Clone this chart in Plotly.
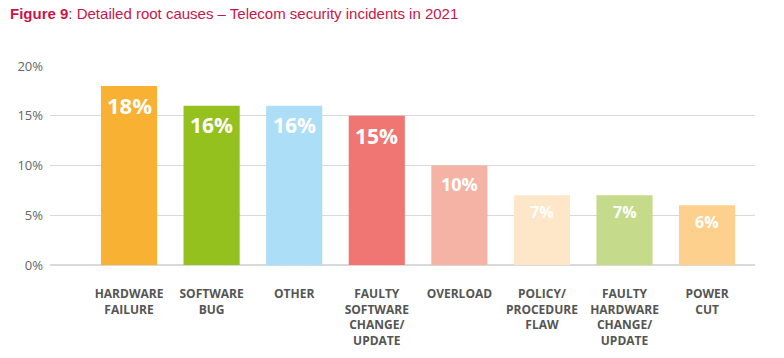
import plotly.graph_objects as go

categories = ["HARDWARE<br>FAILURE", "SOFTWARE<br>BUG", "OTHER", "FAULTY<br>SOFTWARE<br>CHANGE/<br>UPDATE",
              "OVERLOAD", "POLICY/<br>PROCEDURE<br>FLAW", "FAULTY<br>HARDWARE<br>CHANGE/<br>UPDATE", "POWER<br>CUT"]
values = [18, 16, 16, 15, 10, 7, 7, 6]
colors = ["#F8B133", "#95C11F", "#ADDEF8", "#EF7672", "#F5B3A6", "#FEE6C8", "#C5DA8A", "#FDD08D"]
label_sizes = [22, 21, 21, 21, 18, 16, 16, 16]
label_offsets = [19, 19, 19, 20, 18, 17, 17, 17]
tick_vals = [0, 5, 10, 15, 20]
tick_text = ["0%", "5%", "10%", "15%", "20%"]

x = list(range(len(categories)))
fig = go.Figure(go.Bar(x=x, y=values, marker=dict(color=colors, line=dict(width=0)),
                       width=0.68, hoverinfo="skip"))

for xi, v, s, off in zip(x, values, label_sizes, label_offsets):
    fig.add_annotation(x=xi, y=v, text=f"<b>{v}%</b>", showarrow=False, yanchor="middle",
                       yshift=-off, font=dict(family="Open Sans", size=s, color="white"))

fig.add_annotation(xref="paper", yref="paper", x=-0.0596, y=1.266, xanchor="left", yanchor="middle",
                   text="<b>Figure 9</b>: Detailed root causes – Telecom security incidents in 2021",
                   showarrow=False, font=dict(family="Liberation Sans, Arial", size=15, color="#C8154B"))

fig.update_layout(
    width=784, height=358, margin=dict(l=50, r=29, t=66, b=93),
    plot_bgcolor="white", paper_bgcolor="white", showlegend=False,
    xaxis=dict(range=[-0.957, 7.58], tickmode="array", tickvals=x,
               ticktext=[f"<b>{c}</b>" for c in categories], automargin=False,
               tickfont=dict(family="Open Sans", size=12, color="#555555"), showgrid=False,
               ticks="", showline=False, zeroline=False, tickangle=0, ticklabelstandoff=20),
    yaxis=dict(range=[0, 20], tickmode="array", tickvals=tick_vals, ticktext=tick_text,
               automargin=False,
               tickfont=dict(family="Open Sans", size=13, color="#666666"),
               gridcolor="#D9D9D9", gridwidth=1, zeroline=True, zerolinecolor="#D9D9D9",
               showline=False, ticks="", ticklabelstandoff=6),
)
fig.write_html("out.html", config={"displayModeBar": False},
               post_script="document.body.style.margin='0';document.body.style.overflow='hidden';")
